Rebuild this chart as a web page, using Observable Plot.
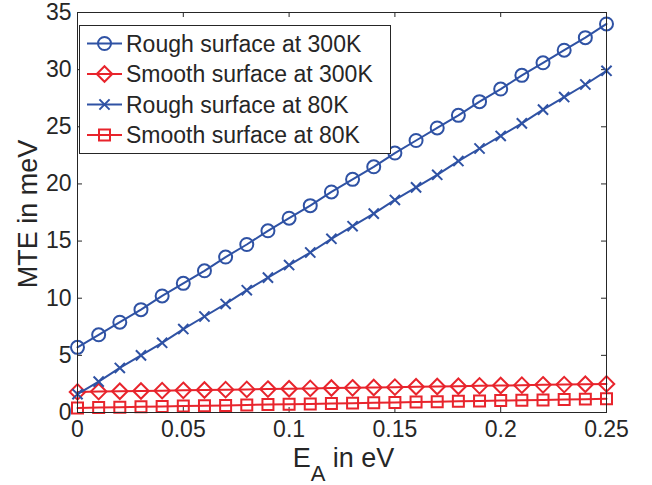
<!DOCTYPE html>
<html>
<head>
<meta charset="utf-8">
<script src="https://cdn.jsdelivr.net/npm/d3@7"></script>
<script src="https://cdn.jsdelivr.net/npm/@observablehq/plot@0.6"></script>
<style>
  html, body { margin: 0; padding: 0; background: #ffffff; }
  #chart { width: 652px; height: 485px; }
</style>
</head>
<body>
<div id="chart"></div>
<script>
// ---- Data ----
const energies = [0, 0.01, 0.02, 0.03, 0.04, 0.05, 0.06, 0.07, 0.08, 0.09, 0.10, 0.11, 0.12,
  0.13, 0.14, 0.15, 0.16, 0.17, 0.18, 0.19, 0.20, 0.21, 0.22, 0.23, 0.24, 0.25];
const rough300 = [5.7, 6.8, 7.9, 9.0, 10.2, 11.3, 12.4, 13.6, 14.7, 15.9, 17.0, 18.1, 19.3,
  20.4, 21.5, 22.7, 23.8, 24.9, 26.0, 27.2, 28.3, 29.5, 30.6, 31.7, 32.8, 34.0];
const smooth300 = [1.80, 1.83, 1.86, 1.88, 1.91, 1.94, 1.97, 2.00, 2.02, 2.05, 2.08, 2.11, 2.14,
  2.16, 2.19, 2.22, 2.25, 2.28, 2.30, 2.33, 2.36, 2.39, 2.42, 2.44, 2.47, 2.50];
const rough80 = [1.6, 2.7, 3.9, 5.0, 6.1, 7.3, 8.4, 9.5, 10.7, 11.8, 12.9, 14.0, 15.2,
  16.3, 17.4, 18.6, 19.7, 20.8, 22.0, 23.1, 24.2, 25.3, 26.5, 27.6, 28.7, 29.9];
const smooth80 = [0.40, 0.43, 0.46, 0.50, 0.53, 0.56, 0.59, 0.62, 0.66, 0.69, 0.72, 0.75, 0.78,
  0.82, 0.85, 0.88, 0.91, 0.94, 0.98, 1.01, 1.04, 1.07, 1.10, 1.14, 1.17, 1.20];
const seriesNames = ["Rough surface at 300K", "Smooth surface at 300K", "Rough surface at 80K", "Smooth surface at 80K"];
const xTicks = [0, 0.05, 0.1, 0.15, 0.2, 0.25];
const yTicks = [0, 5, 10, 15, 20, 25, 30, 35];
const xTitle = ["E", "A", " in eV"];
const yTitle = "MTE in meV";

// ---- Styles ----
const BLUE = "#2f52a4";
const RED = "#e8242c";
const INK = "#262626";
const FONT = "'Liberation Sans', Arial, Helvetica, sans-serif";

const series = [
  {name: seriesNames[0], values: rough300, color: BLUE, symbol: "circle", r: 6.5, d3sym: d3.symbolCircle},
  {name: seriesNames[1], values: smooth300, color: RED, symbol: "diamond2", r: 7, d3sym: d3.symbolDiamond2},
  {name: seriesNames[2], values: rough80, color: BLUE, symbol: "times", r: 4.7, d3sym: d3.symbolTimes},
  {name: seriesNames[3], values: smooth80, color: RED, symbol: "square", r: 6.2, d3sym: d3.symbolSquare}
];

const W = 652, H = 485;
const mL = 77, mR = 46, mT = 12, mB = 73;
const innerW = W - mL - mR, innerH = H - mT - mB;
const TICK = 5;

const seriesMarks = series.flatMap(s => {
  const rows = energies.map((x, i) => ({x, y: s.values[i]}));
  return [
    Plot.line(rows, {x: "x", y: "y", stroke: s.color, strokeWidth: 2}),
    Plot.dot(rows, {x: "x", y: "y", symbol: s.symbol, r: s.r, stroke: s.color, strokeWidth: 2, fill: "none"})
  ];
});

const chart = Plot.plot({
  width: W, height: H,
  marginLeft: mL, marginRight: mR, marginTop: mT, marginBottom: mB,
  x: {domain: [0, 0.25]},
  y: {domain: [0, 35]},
  style: {fontFamily: FONT, fontSize: "23px", color: INK, background: "#ffffff"},
  marks: [
    Plot.axisX(xTicks, {anchor: "bottom", tickSize: 0, tickPadding: 8, tickFormat: d => String(d), label: null, fontSize: 23, fill: INK}),
    Plot.axisY(yTicks, {anchor: "left", tickSize: 0, tickPadding: 6, tickFormat: d => String(d), label: null, fontSize: 23, fill: INK}),
    // inward ticks on all four sides
    Plot.tickX(xTicks, {x: d => d, insetTop: innerH - TICK, stroke: INK, strokeWidth: 1}),
    Plot.tickX(xTicks, {x: d => d, insetBottom: innerH - TICK, stroke: INK, strokeWidth: 1}),
    Plot.tickY(yTicks, {y: d => d, insetRight: innerW - TICK, stroke: INK, strokeWidth: 1}),
    Plot.tickY(yTicks, {y: d => d, insetLeft: innerW - TICK, stroke: INK, strokeWidth: 1}),
    ...seriesMarks,
    Plot.frame({stroke: INK, strokeWidth: 1})
  ]
});

document.getElementById("chart").appendChild(chart);

// ---- Titles and legend added into the same SVG ----
const svg = d3.select(chart);

// y title
svg.append("text")
  .attr("transform", `translate(37, ${mT + innerH / 2 + 2}) rotate(-90)`)
  .attr("text-anchor", "middle")
  .attr("font-family", FONT)
  .attr("font-size", 27)
  .attr("fill", INK)
  .text(yTitle);

// x title with subscript
const xt = svg.append("text")
  .attr("x", mL + innerW / 2 + 2)
  .attr("y", 467)
  .attr("text-anchor", "middle")
  .attr("font-family", FONT)
  .attr("font-size", 27)
  .attr("fill", INK);
xt.append("tspan").text(xTitle[0]);
xt.append("tspan").attr("font-size", 22).attr("dy", 14).text(xTitle[1]);
xt.append("tspan").attr("dy", -14).text(xTitle[2]);

// legend
const lg = svg.append("g").attr("text-anchor", "start");
const boxX = 79, boxY = 25, boxW = 311, boxH = 128;
lg.append("rect")
  .attr("x", boxX + 0.5).attr("y", boxY + 0.5)
  .attr("width", boxW).attr("height", boxH)
  .attr("fill", "#ffffff").attr("stroke", INK).attr("stroke-width", 1);
const rowY = [43.5, 74, 104.5, 135];
series.forEach((s, i) => {
  const y = rowY[i];
  lg.append("line")
    .attr("x1", 87).attr("x2", 122).attr("y1", y).attr("y2", y)
    .attr("stroke", s.color).attr("stroke-width", 2);
  lg.append("path")
    .attr("transform", `translate(104.5, ${y})`)
    .attr("d", d3.symbol(s.d3sym, s.r * s.r * Math.PI)())
    .attr("fill", "none").attr("stroke", s.color).attr("stroke-width", 2);
  lg.append("text")
    .attr("x", 126).attr("y", y).attr("dy", "0.36em")
    .attr("text-anchor", "start")
    .attr("font-family", FONT).attr("font-size", 23).attr("fill", INK)
    .text(s.name);
});
</script>
</body>
</html>
